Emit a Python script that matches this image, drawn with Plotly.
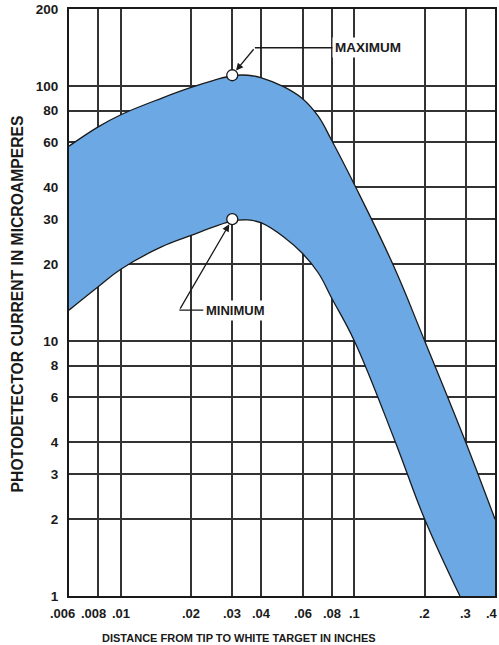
import math
import plotly.graph_objects as go

# ---- data ----
dist_max = [0.006, 0.008, 0.01, 0.015, 0.02, 0.025, 0.03, 0.035, 0.04, 0.05, 0.06,
            0.07, 0.08, 0.1, 0.146, 0.2, 0.3, 0.4]
cur_max = [58, 69, 77, 89.5, 98.5, 105, 109.5, 110, 107.5, 99, 89,
           76, 61, 41, 20, 10, 4, 2]

dist_min = [0.006, 0.008, 0.01, 0.015, 0.02, 0.025, 0.03, 0.035, 0.04, 0.05, 0.06,
            0.07, 0.08, 0.1, 0.15, 0.2, 0.283]
cur_min = [13.2, 16.3, 19.1, 23.4, 25.9, 28, 29.5, 29.8, 29, 25.5, 22,
           18.5, 14.7, 10, 4, 2, 1]

x_ticks = [0.006, 0.008, 0.01, 0.02, 0.03, 0.04, 0.06, 0.08, 0.1, 0.2, 0.3, 0.4]
x_ticklabels = [".006", ".008", ".01", ".02", ".03", ".04", ".06", ".08", ".1", ".2", ".3", ".4"]
y_ticks = [1, 2, 3, 4, 6, 8, 10, 20, 30, 40, 60, 80, 100, 200]
y_ticklabels = ["1", "2", "3", "4", "6", "8", "10", "20", "30", "40", "60", "80", "100", "200"]

marker_x = [0.03, 0.03]
marker_y = [110, 30]
marker_names = ["MAXIMUM", "MINIMUM"]

x_range = [0.006, 0.4]
y_range = [1, 200]
FILL_FLOOR = 0.5   # below the visible range: closes the band under the bottom axis

BLUE = "rgb(108,168,228)"
GRID = "#333333"
INK = "#1a1a1a"
FONT = "Liberation Sans"
SM = 1.15

fig = go.Figure()

# lower boundary of band (min curve, continuing below the bottom axis)
fig.add_trace(go.Scatter(
    x=dist_min + [x_range[1]], y=cur_min + [FILL_FLOOR],
    mode="lines", line=dict(width=0, shape="spline", smoothing=SM),
    hoverinfo="skip", showlegend=False))
# upper boundary filled down to the lower one
fig.add_trace(go.Scatter(
    x=dist_max, y=cur_max, mode="lines",
    line=dict(color=INK, width=1.3, shape="spline", smoothing=SM),
    fill="tonexty", fillcolor=BLUE, showlegend=False))
# min curve line
fig.add_trace(go.Scatter(
    x=dist_min, y=cur_min, mode="lines",
    line=dict(color=INK, width=1.3, shape="spline", smoothing=SM),
    showlegend=False))
# circle markers
fig.add_trace(go.Scatter(
    x=marker_x, y=marker_y, mode="markers",
    marker=dict(size=11, color="white", line=dict(color=INK, width=1.3)),
    showlegend=False))

lx = math.log10

annots = []
# x tick labels (placed at the tick values; the first two sit a little left as in the original)
label_shift = {".006": -7, ".008": -5, ".4": -3}
for v, t in zip(x_ticks, x_ticklabels):
    annots.append(dict(x=lx(v), y=0, xref="x", yref="paper", text="<b>" + t + "</b>",
                       showarrow=False, xanchor="center", yanchor="top",
                       yshift=-8, xshift=label_shift.get(t, 0),
                       font=dict(family=FONT, size=13, color=INK)))
# MAXIMUM: diagonal arrow, then horizontal leader to text
max_corner = (0.0375, 141)
annots.append(dict(x=lx(marker_x[0]), y=lx(marker_y[0]), xref="x", yref="y",
                   ax=lx(max_corner[0]), ay=lx(max_corner[1]), axref="x", ayref="y",
                   text="", showarrow=True, arrowhead=2, arrowsize=1.1,
                   arrowwidth=1.3, arrowcolor=INK, standoff=6))
annots.append(dict(x=lx(max_corner[0]), y=lx(max_corner[1]), xref="x", yref="y",
                   ax=113, ay=0, text="<b>" + marker_names[0] + "</b>",
                   showarrow=True, arrowhead=0, arrowwidth=1.3, arrowcolor=INK,
                   font=dict(family=FONT, size=13.5, color=INK),
                   bgcolor="white", borderpad=2))
# MINIMUM
min_corner = (0.0178, 13.2)
annots.append(dict(x=lx(marker_x[1]), y=lx(marker_y[1]), xref="x", yref="y",
                   ax=lx(min_corner[0]), ay=lx(min_corner[1]), axref="x", ayref="y",
                   text="", showarrow=True, arrowhead=2, arrowsize=1.1,
                   arrowwidth=1.3, arrowcolor=INK, standoff=6))
annots.append(dict(x=lx(min_corner[0]), y=lx(min_corner[1]), xref="x", yref="y",
                   ax=56, ay=0, text="<b>" + marker_names[1] + "</b>",
                   showarrow=True, arrowhead=0, arrowwidth=1.3, arrowcolor=INK,
                   font=dict(family=FONT, size=13, color=INK),
                   bgcolor="white", borderpad=2))
# axis titles
annots.append(dict(x=0.399, y=-0.0716, xref="paper", yref="paper",
                   text="<b>DISTANCE FROM TIP TO WHITE TARGET IN INCHES</b>",
                   showarrow=False, xanchor="center", yanchor="middle",
                   font=dict(family=FONT, size=11, color=INK)))
annots.append(dict(x=-0.1204, y=0.498, xref="paper", yref="paper",
                   text="<b>PHOTODETECTOR CURRENT IN MICROAMPERES</b>",
                   showarrow=False, textangle=-90, xanchor="center", yanchor="middle",
                   font=dict(family=FONT, size=15.7, color=INK)))

fig.update_layout(
    width=499, height=645,
    margin=dict(l=69, r=4, t=9, b=49, autoexpand=False),
    paper_bgcolor="white", plot_bgcolor="white",
    annotations=annots,
    xaxis=dict(type="log", range=[lx(x_range[0]), lx(x_range[1])],
               tickvals=x_ticks, showticklabels=False, automargin=False,
               showgrid=True, gridcolor=GRID, gridwidth=1.5,
               showline=True, linecolor=INK, linewidth=2, mirror=True,
               ticks="", zeroline=False),
    yaxis=dict(type="log", range=[lx(y_range[0]), lx(y_range[1])],
               tickvals=y_ticks, ticktext=y_ticklabels, automargin=False,
               ticklabeloverflow="allow",
               showgrid=True, gridcolor=GRID, gridwidth=1.5,
               showline=True, linecolor=INK, linewidth=2, mirror=True,
               ticks="", zeroline=False, ticklabelstandoff=6,
               tickfont=dict(family=FONT, size=13.5, color=INK, weight="bold")),
)

fig.write_html(
    "out.html",
    config={"displayModeBar": False},
    post_script="document.body.style.margin='0';document.body.style.padding='0';"
                "document.body.style.overflow='hidden';",
)
